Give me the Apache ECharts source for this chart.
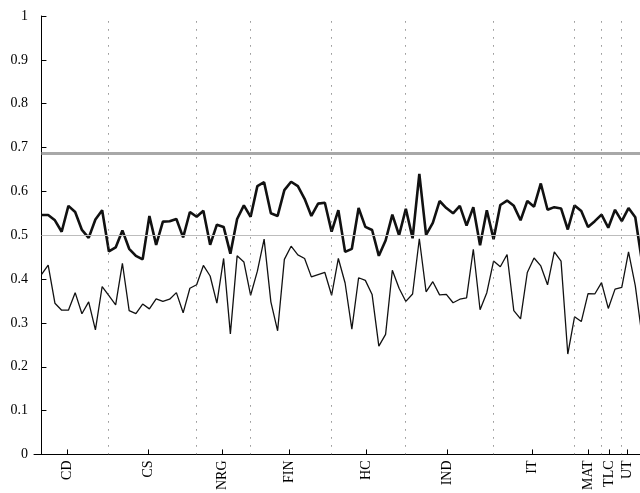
<!DOCTYPE html>
<html>
<head>
<meta charset="utf-8">
<script src="https://cdn.jsdelivr.net/npm/echarts@6/dist/echarts.min.js"></script>
<style>html,body{margin:0;padding:0;background:#fff}</style>
</head>
<body>
<div id="main" style="width:640px;height:493px"></div>
<script>
// upper (thick) series
const upper = [0.546,0.546,0.534,0.508,0.567,0.553,0.512,0.494,0.536,0.557,
  0.463,0.472,0.511,0.469,0.453,0.445,0.544,0.478,0.531,0.532,
  0.537,0.495,0.553,0.542,0.556,0.478,0.524,0.519,0.458,0.537,
  0.568,0.542,0.612,0.621,0.550,0.544,0.603,0.622,0.612,0.583,
  0.544,0.572,0.574,0.508,0.557,0.462,0.469,0.562,0.519,0.512,
  0.453,0.488,0.547,0.500,0.560,0.493,0.640,0.501,0.528,0.578,
  0.562,0.550,0.567,0.522,0.564,0.477,0.557,0.491,0.569,0.579,
  0.567,0.534,0.578,0.565,0.618,0.558,0.564,0.561,0.513,0.568,
  0.555,0.519,0.532,0.547,0.517,0.558,0.532,0.562,0.541,0.439]
// lower (thin) series
const lower = [0.410,0.432,0.345,0.329,0.329,0.369,0.321,0.348,0.284,0.383,
  0.362,0.341,0.436,0.328,0.321,0.343,0.332,0.355,0.349,0.354,
  0.369,0.323,0.379,0.387,0.431,0.407,0.345,0.447,0.275,0.453,
  0.439,0.363,0.418,0.491,0.348,0.282,0.445,0.475,0.455,0.447,
  0.405,0.410,0.415,0.363,0.447,0.391,0.286,0.403,0.397,0.365,
  0.247,0.274,0.420,0.379,0.349,0.366,0.492,0.371,0.394,0.364,
  0.365,0.346,0.354,0.357,0.468,0.330,0.369,0.441,0.428,0.456,
  0.328,0.309,0.415,0.448,0.430,0.387,0.462,0.441,0.229,0.314,
  0.303,0.367,0.366,0.392,0.333,0.377,0.381,0.462,0.385,0.270]
const sectorLabels = ['CD','CS','NRG','FIN','HC','IND','IT','MAT','TLC','UT']
const sectorPos = [3.84,15.8,26.8,36.7,48.1,60.2,72.7,81.1,84.1,86.8]
const sectorBounds = [9.9,22.9,30.9,42.9,53.9,66.9,78.9,82.9,85.9]
const yTicks = [0,0.1,0.2,0.3,0.4,0.5,0.6,0.7,0.8,0.9,1]
const refHigh = 0.686
const refLow = 0.5

const chart = echarts.init(document.getElementById('main'))
const font = 'Liberation Serif'
chart.setOption({
  animation: false,
  grid: { left: 34, right: 0, top: 16, bottom: 35 },
  xAxis: {
    type: 'value', min: -1.1, max: 88.7,
    splitLine: { show: false },
    axisLine: { lineStyle: { color: '#000', width: 1 } },
    axisTick: { inside: true, length: 5, customValues: sectorPos, lineStyle: { color: '#000' } },
    axisLabel: {
      customValues: sectorPos, rotate: 90, fontFamily: font, fontSize: 14, color: '#000',
      margin: 6,
      formatter: v => sectorLabels[sectorPos.indexOf(v)] || ''
    }
  },
  yAxis: {
    type: 'value', min: 0, max: 1, interval: 0.1,
    splitLine: { show: false },
    axisLine: { show: true, lineStyle: { color: '#000', width: 1 } },
    axisTick: { show: true, inside: true, length: 5, lineStyle: { color: '#000' } },
    axisLabel: { fontFamily: font, fontSize: 14, color: '#000', margin: 6,
      formatter: v => yTicks.includes(+v.toFixed(1)) ? String(+v.toFixed(1)) : '' }
  },
  series: [
    {
      type: 'line', data: upper.map((v, i) => [i, v]), symbol: 'none',
      lineStyle: { color: '#111', width: 2.6 }, z: 3,
      markLine: {
        silent: true, symbol: 'none', label: { show: false },
        data: [
          ...sectorBounds.map(b => ({ xAxis: b, lineStyle: { color: '#555', type: [1, 7], width: 1 } })),
          [{ coord: [0, refHigh], lineStyle: { color: '#a8a8a8', type: 'solid', width: 3 } }, { coord: [88.7, refHigh] }],
          [{ coord: [0, refLow], lineStyle: { color: '#bdbdbd', type: 'solid', width: 1.2 } }, { coord: [88.7, refLow] }]
        ]
      }
    },
    {
      type: 'line', data: lower.map((v, i) => [i, v]), symbol: 'none',
      lineStyle: { color: '#111', width: 1.3 }, z: 3
    }
  ]
})
</script>
</body>
</html>
